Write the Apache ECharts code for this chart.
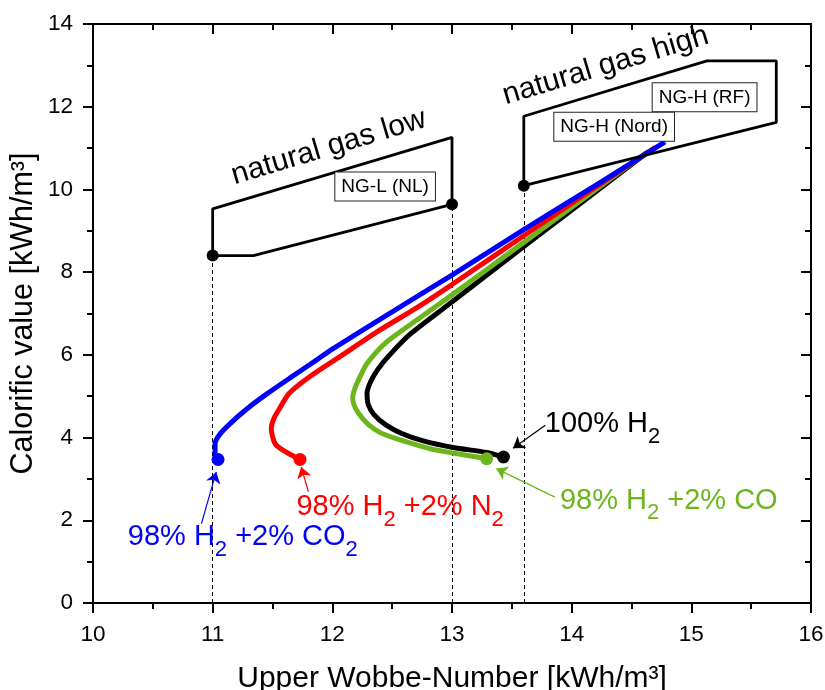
<!DOCTYPE html>
<html>
<head>
<meta charset="utf-8">
<script src="https://cdn.jsdelivr.net/npm/echarts@6/dist/echarts.min.js"></script>
<style>
  html, body { margin: 0; padding: 0; background: #fff; }
  #chart { width: 825px; height: 690px; }
</style>
</head>
<body>
<div id="chart"></div>
<script>
const FONT = '"Liberation Sans", Arial, sans-serif'

// [upper Wobbe number, calorific value]; first point is the marked end point
const h2Pure = [[13.43,3.53],[13.29,3.64],[13.01,3.76],[12.76,3.92],[12.58,4.10],[12.45,4.30],[12.35,4.55],[12.30,4.80],[12.29,5.07],[12.32,5.35],[12.38,5.65],[12.47,5.97],[12.65,6.50],[13.01,7.30],[13.60,8.62],[14.10,9.72],[14.64,10.91]]
const h2Co = [[13.29,3.49],[13.21,3.53],[13.00,3.63],[12.82,3.73],[12.54,3.97],[12.40,4.12],[12.30,4.32],[12.22,4.58],[12.18,4.80],[12.17,4.98],[12.19,5.20],[12.22,5.40],[12.29,5.79],[12.45,6.30],[12.70,6.83],[13.00,7.45],[13.60,8.72],[14.10,9.78],[14.62,10.88]]
const h2N2 = [[11.73,3.47],[11.53,3.82],[11.49,4.22],[11.51,4.45],[11.55,4.66],[11.64,5.07],[11.81,5.47],[12.06,5.95],[12.37,6.55],[12.70,7.13],[13.00,7.70],[13.60,8.88],[14.10,9.86],[14.70,11.02]]
const h2Co2 = [[11.045,3.47],[11.02,3.62],[11.02,3.85],[11.06,4.08],[11.15,4.35],[11.28,4.68],[11.45,5.05],[11.65,5.45],[11.87,5.88],[12.00,6.14],[12.50,7.04],[13.00,7.93],[13.60,9.03],[14.20,10.10],[14.78,11.15]]

// natural gas ranges
const ngLow = [[11,8.40],[11.34,8.40],[13,9.64],[13,11.26],[11,9.53],[11,8.40]]
const ngHigh = [[13.6,10.09],[13.6,11.77],[15.13,13.11],[15.71,13.11],[15.71,11.62],[13.6,10.09]]
const limitPoints = [[11,8.40],[13,9.64],[13.6,10.09]]

// annotation arrows [tail, head]
const arrowCo2 = [[10.906,1.92],[11.03,3.17]]
const arrowN2 = [[11.80,2.69],[11.74,3.29]]
const arrowPure = [[13.78,4.30],[13.51,3.74]]
const arrowCo = [[13.86,2.56],[13.37,3.25]]

const BLUE = '#0000ff', RED = '#ff0000', GREEN = '#6cb51c', BLACK = '#000000'

let chart = echarts.init(document.getElementById('chart'))

function curve(data, color) {
  return {
    type: 'line',
    data: data,
    showSymbol: false,
    smooth: 0.25,
    lineStyle: { color: color, width: 5 },
    z: 2,
    silent: true
  }
}
function outline(data) {
  return {
    type: 'line',
    data: data,
    showSymbol: false,
    lineStyle: { color: BLACK, width: 2.8 },
    z: 3,
    silent: true
  }
}
function arrow(coords, color) {
  return { coords: coords, lineStyle: { color: color } }
}

let axisCommon = {
  type: 'value',
  splitLine: { show: false },
  axisLine: { onZero: false, lineStyle: { color: BLACK, width: 2 } },
  axisTick: { length: 10, lineStyle: { width: 2 } },
  minorTick: { show: true, splitNumber: 2, length: 6, lineStyle: { color: BLACK, width: 2 } },
  minorSplitLine: { show: false }
}

let option = {
  animation: false,
  backgroundColor: '#fff',
  grid: { left: 93, right: 14, top: 24, bottom: 87, containLabel: false, outerBoundsMode: 'none' },
  xAxis: [
    Object.assign({}, axisCommon, {
      min: 10, max: 16, interval: 1, position: 'bottom',
      name: 'Upper Wobbe-Number [kWh/m³]',
      nameLocation: 'middle', nameGap: 61, nameMoveOverlap: false,
      nameTextStyle: { fontSize: 30, color: BLACK, fontFamily: FONT },
      axisLabel: { fontSize: 22.5, color: BLACK, margin: 20, fontFamily: FONT }
    }),
    Object.assign({}, axisCommon, {
      min: 10, max: 16, interval: 1, position: 'top',
      axisTick: { inside: true, length: 10, lineStyle: { width: 2 } },
      axisLabel: { show: false }
    })
  ],
  yAxis: [
    Object.assign({}, axisCommon, {
      min: 0, max: 14, interval: 2, position: 'left',
      name: 'Calorific value [kWh/m³]',
      nameLocation: 'middle', nameGap: 54, nameMoveOverlap: false,
      nameTextStyle: { fontSize: 30.5, color: BLACK, fontFamily: FONT },
      axisLabel: { fontSize: 22.5, color: BLACK, margin: 20, fontFamily: FONT }
    }),
    Object.assign({}, axisCommon, {
      min: 0, max: 14, interval: 2, position: 'right',
      axisTick: { inside: true, length: 10, lineStyle: { width: 2 } },
      axisLabel: { show: false }
    })
  ],
  series: [
    {
      // dashed guides under the range limits
      type: 'lines',
      coordinateSystem: 'cartesian2d',
      data: limitPoints.map(p => ({ coords: [[p[0], 0], p] })),
      lineStyle: { color: BLACK, width: 1, type: [4, 3], opacity: 1 },
      z: 1,
      silent: true
    },
    curve(h2Pure, BLACK),
    curve(h2Co, GREEN),
    curve(h2N2, RED),
    curve(h2Co2, BLUE),
    outline(ngLow),
    outline(ngHigh),
    {
      type: 'scatter',
      data: limitPoints,
      symbolSize: 12,
      itemStyle: { color: BLACK, opacity: 1 },
      z: 4,
      silent: true
    },
    {
      type: 'scatter',
      data: [
        { value: h2Pure[0], itemStyle: { color: BLACK } },
        { value: h2Co[0], itemStyle: { color: GREEN } },
        { value: h2N2[0], itemStyle: { color: RED } },
        { value: h2Co2[0], itemStyle: { color: BLUE } }
      ],
      symbolSize: 13,
      itemStyle: { opacity: 1 },
      z: 4,
      silent: true
    },
    {
      type: 'lines',
      coordinateSystem: 'cartesian2d',
      symbol: ['none', 'arrow'],
      symbolSize: 11,
      data: [
        arrow(arrowCo2, BLUE),
        arrow(arrowN2, RED),
        arrow(arrowPure, BLACK),
        arrow(arrowCo, GREEN)
      ],
      lineStyle: { width: 1.2, opacity: 1, curveness: 0 },
      z: 5,
      silent: true
    }
  ]
}
chart.setOption(option)

// text annotations, anchored in data coordinates
function px(p) {
  return chart.convertToPixel({ xAxisIndex: 0, yAxisIndex: 0 }, p)
}
function formula(pos, parts, color) {
  let text = parts.map((t, i) => i % 2 ? '{s|' + t + '}' : '{m|' + t + '}').join('')
  let p = px(pos)
  return {
    type: 'text', x: p[0], y: p[1], silent: true, z: 100,
    style: {
      text: text, fill: color, align: 'left', verticalAlign: 'top',
      rich: {
        m: { fontSize: 29, fontFamily: FONT, lineHeight: 32, verticalAlign: 'top', fill: color },
        s: { fontSize: 22, fontFamily: FONT, lineHeight: 22, padding: [16, 0, 0, 0], verticalAlign: 'top', fill: color }
      }
    }
  }
}
function slanted(pos, text) {
  let p = px(pos)
  return {
    type: 'text', x: p[0], y: p[1], rotation: 16.7 * Math.PI / 180, silent: true, z: 100,
    style: { text: text, fill: BLACK, font: '30px ' + FONT, align: 'left', verticalAlign: 'middle' }
  }
}
function boxed(pos, text) {
  let p = px(pos)
  return {
    type: 'text', x: p[0], y: p[1], silent: true, z: 100,
    style: {
      text: text, fill: BLACK, font: '19px ' + FONT, align: 'left', verticalAlign: 'top',
      lineHeight: 21, padding: [4, 6, 3, 6],
      backgroundColor: '#fff', borderColor: '#222', borderWidth: 1
    }
  }
}

chart.setOption({
  graphic: [
    slanted([11.163, 10.315], 'natural gas low'),
    slanted([13.429, 12.25], 'natural gas high'),
    boxed([12.025, 10.41], 'NG-L (NL)'),
    boxed([14.677, 12.567], 'NG-H (RF)'),
    boxed([13.855, 11.856], 'NG-H (Nord)'),
    formula([10.291, 1.935], ['98% H', '2', ' +2% CO', '2'], BLUE),
    formula([11.70, 2.66], ['98% H', '2', ' +2% N', '2'], RED),
    formula([13.776, 4.68], ['100% H', '2'], BLACK),
    formula([13.902, 2.82], ['98% H', '2', ' +2% CO'], GREEN)
  ]
})
</script>
</body>
</html>
